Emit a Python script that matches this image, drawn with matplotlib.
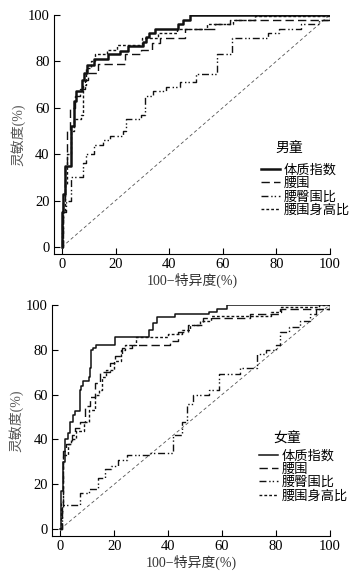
import matplotlib
matplotlib.use("Agg")
import matplotlib.pyplot as plt

plt.rcParams['font.family'] = ['Liberation Serif', 'Noto Sans CJK SC']
plt.rcParams['axes.unicode_minus'] = False

SERIES = ["体质指数", "腰围", "腰臀围比", "腰围身高比"]
TICKS = [0, 20, 40, 60, 80, 100]

# boys: (100-specificity, sensitivity) step corners
boy_bmi_x = [0, 0, 0.5, 1.3, 3.3, 4.5, 5.2, 7.3, 8.2, 9.3, 11.8, 17.3, 21.6, 24.7, 30.3, 31.2, 32.6, 34.7, 43.5, 45, 47.8, 100]
boy_bmi_y = [0, 15, 23, 35, 52, 63, 67, 72, 75, 78.5, 81, 83, 84.5, 86.5, 88.5, 90.5, 92, 94, 96, 98, 100, 100]
boy_wc_x = [0, 0.5, 1, 2, 3, 4.8, 6.8, 8.5, 9.8, 13.5, 23.5, 29.5, 33.6, 36.5, 46, 57, 62.7, 100]
boy_wc_y = [0, 20, 35, 50, 60, 65, 68, 72, 75, 79, 83, 85, 88, 90, 94, 96, 98, 100]
boy_whr_x = [0, 0, 0.5, 1.5, 3.2, 8, 9, 12, 15.4, 18, 22.8, 24, 29.6, 31, 34, 39, 44, 50, 57.7, 63.3, 77, 81, 89.4, 96, 100]
boy_whr_y = [0, 10, 15, 20, 30, 36, 40, 44, 46, 47.8, 50, 55, 57, 65, 67, 69, 71, 74.5, 83, 90, 92, 94, 96, 98, 100]
boy_whtr_x = [0, 0.3, 1, 2, 3.5, 4.5, 7, 7.8, 9, 10.8, 12.5, 16.7, 20.4, 30, 36, 43, 54, 64, 72, 100]
boy_whtr_y = [0, 15, 27, 40, 50, 55, 57, 70, 77, 80, 83, 85, 87, 90, 92, 94, 96, 98, 99.5, 100]

# girls
girl_bmi_x = [0, 0.4, 1.1, 1.9, 3, 3.7, 4.7, 5.5, 7.3, 7.6, 8.4, 10.5, 11, 11.4, 12.3, 13.3, 20.4, 33, 34.3, 35.8, 42.6, 55, 58, 61.7, 100]
girl_bmi_y = [0, 17, 30, 40, 43, 48, 51, 52.5, 62, 64, 66, 68, 72, 80, 81, 82, 85.5, 89, 92, 94.5, 96, 97, 98, 100, 100]
girl_wc_x = [0, 0.5, 1, 2, 4.3, 5.5, 7.4, 9.3, 11, 13, 14.8, 18.5, 20.4, 22.8, 26.5, 40.7, 43.8, 47.5, 53, 70.4, 81.5, 100]
girl_wc_y = [0, 8, 35, 38, 42, 45, 48, 55, 59, 65, 70, 74, 77, 81, 82, 84, 88, 91, 94, 96, 98, 100]
girl_whr_x = [0, 0.6, 7.4, 10.5, 14, 16.7, 19, 21.6, 24.7, 33.3, 42, 45, 47, 49.4, 55, 59, 66.7, 72.8, 76.5, 80, 81.5, 85, 89, 92.6, 95, 100]
girl_whr_y = [0, 11, 16, 18, 23, 27, 28, 31, 33, 34, 42, 48, 56, 60, 62, 69, 72, 78, 80, 82, 88, 90, 93, 96, 98, 100]
girl_whtr_x = [0, 0.3, 1, 3, 4, 6, 9, 10.5, 13, 14.5, 15.5, 17, 20, 22.5, 24, 28, 40, 45, 48, 52, 56, 78, 82, 96, 100]
girl_whtr_y = [0, 12, 33, 38, 40, 44, 48, 53, 60, 62, 68, 71, 75, 80, 82, 85.5, 87, 89, 91, 93, 95, 97, 99, 100, 100]

STYLES = ['-', (0, (6, 3)), (0, (5, 2, 1, 1.5, 1, 2)), (0, (2, 1.5))]


def draw_panel(ax, curves, title, bmi_lw, leg_x, leg_y, title_y):
    ax.plot([0, 100], [0, 100], color='#555555', lw=0.6, ls=(0, (4, 3)))
    for (x, y), name, ls in zip(curves, SERIES, STYLES):
        lw = bmi_lw if ls == '-' else 1.0
        ax.plot(x, y, drawstyle='steps-post', color='#111111', lw=lw, ls=ls, label=name)
    ax.set_xlim(-3, 100)
    ax.set_ylim(-3, 100)
    ax.spines['top'].set_visible(False)
    ax.spines['right'].set_visible(False)
    ax.spines['left'].set_bounds(-3, 100)
    ax.set_xticks(TICKS)
    ax.set_yticks(TICKS)
    ax.tick_params(direction='in', length=4, width=0.8, labelsize=10.5, pad=3)
    ax.set_xlabel('100−特异度(%)', fontsize=10, labelpad=1, color='#333333')
    ax.set_ylabel('灵敏度(%)', fontsize=10, labelpad=2, color='#555555')
    ax.text(leg_x + 0.04, title_y, title, transform=ax.transAxes, fontsize=10, va='center')
    ax.legend(loc='upper left', bbox_to_anchor=(leg_x - 0.01, leg_y), frameon=False,
              fontsize=9.5, handlelength=1.4, handletextpad=0.3, labelspacing=0.08, borderpad=0,
              borderaxespad=0)


fig = plt.figure(figsize=(3.57, 5.72), dpi=100)
ax1 = fig.add_axes([0.151, 0.556, 0.773, 0.418])
ax2 = fig.add_axes([0.146, 0.063, 0.778, 0.404])

draw_panel(ax1, [(boy_bmi_x, boy_bmi_y), (boy_wc_x, boy_wc_y), (boy_whr_x, boy_whr_y), (boy_whtr_x, boy_whtr_y)],
           '男童', 1.8, 0.762, 0.375, 0.44)
draw_panel(ax2, [(girl_bmi_x, girl_bmi_y), (girl_wc_x, girl_wc_y), (girl_whr_x, girl_whr_y), (girl_whtr_x, girl_whtr_y)],
           '女童', 1.1, 0.755, 0.372, 0.425)

fig.savefig('out.png', dpi=100)
